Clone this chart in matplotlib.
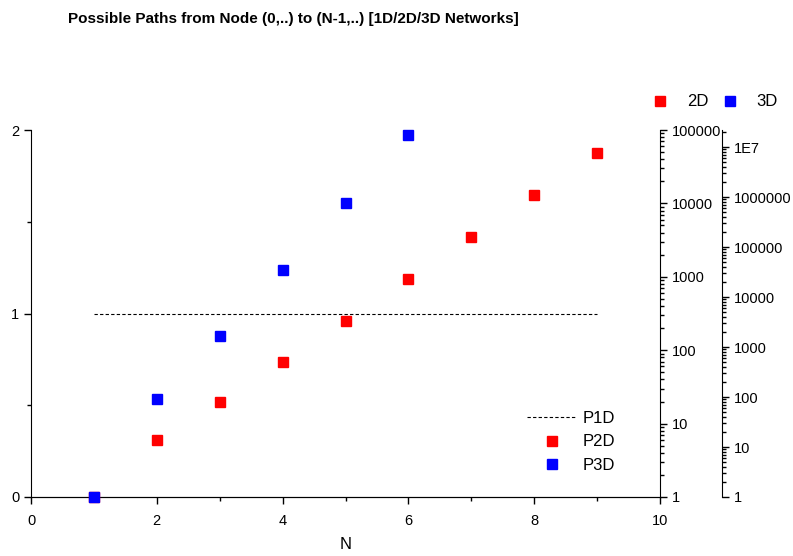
import numpy as np
import matplotlib
matplotlib.use('Agg')
import matplotlib.pyplot as plt
from matplotlib.ticker import FixedLocator, LogLocator, NullFormatter, FuncFormatter
from matplotlib.lines import Line2D

plt.rcParams['font.family'] = ['Liberation Sans', 'DejaVu Sans']

N = [1, 2, 3, 4, 5, 6, 7, 8, 9]
p1d = [1, 1, 1, 1, 1, 1, 1, 1, 1]
n2 = [1, 2, 3, 4, 5, 6, 7, 8, 9]
p2d = [1, 6, 20, 70, 252, 924, 3432, 12870, 48620]
n3 = [1, 2, 3, 4, 5, 6]
p3d = [1, 90, 1680, 34650, 756756, 17153136]

fig = plt.figure(figsize=(7.93, 5.56), dpi=100)
ax = fig.add_axes([31/793, 1-497/556, 629/793, 367/556])
ax.plot(N, p1d, ls=(0, (3, 2)), color='k', lw=0.8, zorder=3)
ax.set_xlim(0, 10)
ax.set_ylim(0, 2)
ax.set_xticks([0, 2, 4, 6, 8, 10])
ax.set_xticks([1, 3, 5, 7, 9], minor=True)
ax.set_yticks([0, 1, 2])
ax.set_yticks([0.5, 1.5], minor=True)
ax.spines['top'].set_visible(False)
ax.spines['right'].set_visible(False)
ax.tick_params(which='major', length=5, width=1, labelsize=10.5)
ax.tick_params(axis='x', which='major', pad=7)
ax.tick_params(which='minor', length=3, width=1)
ax.set_xlabel('N', fontsize=12, labelpad=7)
ax.patch.set_alpha(0)

fmt_int = FuncFormatter(lambda v, p: '%d' % round(v))

ax2 = ax.twinx()
ax2.set_yscale('log')
ax2.set_ylim(1, 1e5)
ax2.plot(n2, p2d, 's', color='red', ms=7, zorder=4, clip_on=False)
ax2.yaxis.set_major_locator(LogLocator(base=10, numticks=10))
ax2.yaxis.set_minor_locator(LogLocator(base=10, subs=np.arange(2, 10), numticks=20))
ax2.yaxis.set_major_formatter(fmt_int)
ax2.yaxis.set_minor_formatter(NullFormatter())
ax2.spines['top'].set_visible(False)
ax2.spines['left'].set_visible(False)
ax2.tick_params(which='major', length=5, width=1, labelsize=10.5)
ax2.tick_params(which='minor', length=3, width=1)

ax3 = ax.twinx()
ax3.set_yscale('log')
ax3.set_ylim(1, 2.2e7)
ax3.plot(n3, p3d, 's', color='blue', ms=7, zorder=5, clip_on=False)
ax3.spines['right'].set_position(('axes', 691/629))
ax3.spines['top'].set_visible(False)
ax3.spines['left'].set_visible(False)
ax3.spines['bottom'].set_visible(False)
ax3.yaxis.set_major_locator(FixedLocator([1, 10, 100, 1e3, 1e4, 1e5, 1e6, 1e7]))
ax3.yaxis.set_minor_locator(LogLocator(base=10, subs=np.arange(2, 10), numticks=20))
ax3.yaxis.set_major_formatter(FuncFormatter(lambda v, p: '1E7' if v >= 1e7 else '%d' % round(v)))
ax3.yaxis.set_minor_formatter(NullFormatter())
ax3.tick_params(which='major', length=5, width=1, labelsize=10.5)
ax3.tick_params(which='minor', length=3, width=1)

fig.text(293/793, 1-19/556, 'Possible Paths from Node (0,..) to (N-1,..) [1D/2D/3D Networks]',
         ha='center', va='center', fontsize=11, fontweight='bold')

h2 = Line2D([], [], ls='none', marker='s', color='red', ms=7)
h3 = Line2D([], [], ls='none', marker='s', color='blue', ms=7)
h1 = Line2D([], [], ls=(0, (3, 2)), color='k', lw=0.8)

fig.legend([h2, h3], ['2D', '3D'], ncol=2, frameon=False, fontsize=12,
           loc='center', bbox_to_anchor=(715/793, 1-102/556),
           handlelength=1.0, handletextpad=1.1, columnspacing=0.8)
fig.legend([h1, h2, h3], ['P1D', 'P2D', 'P3D'], frameon=False, fontsize=12,
           loc='center', bbox_to_anchor=(571/793, 1-442/556),
           handlelength=3.0, handletextpad=0.3, labelspacing=0.5)

fig.savefig('out.png', dpi=100)
